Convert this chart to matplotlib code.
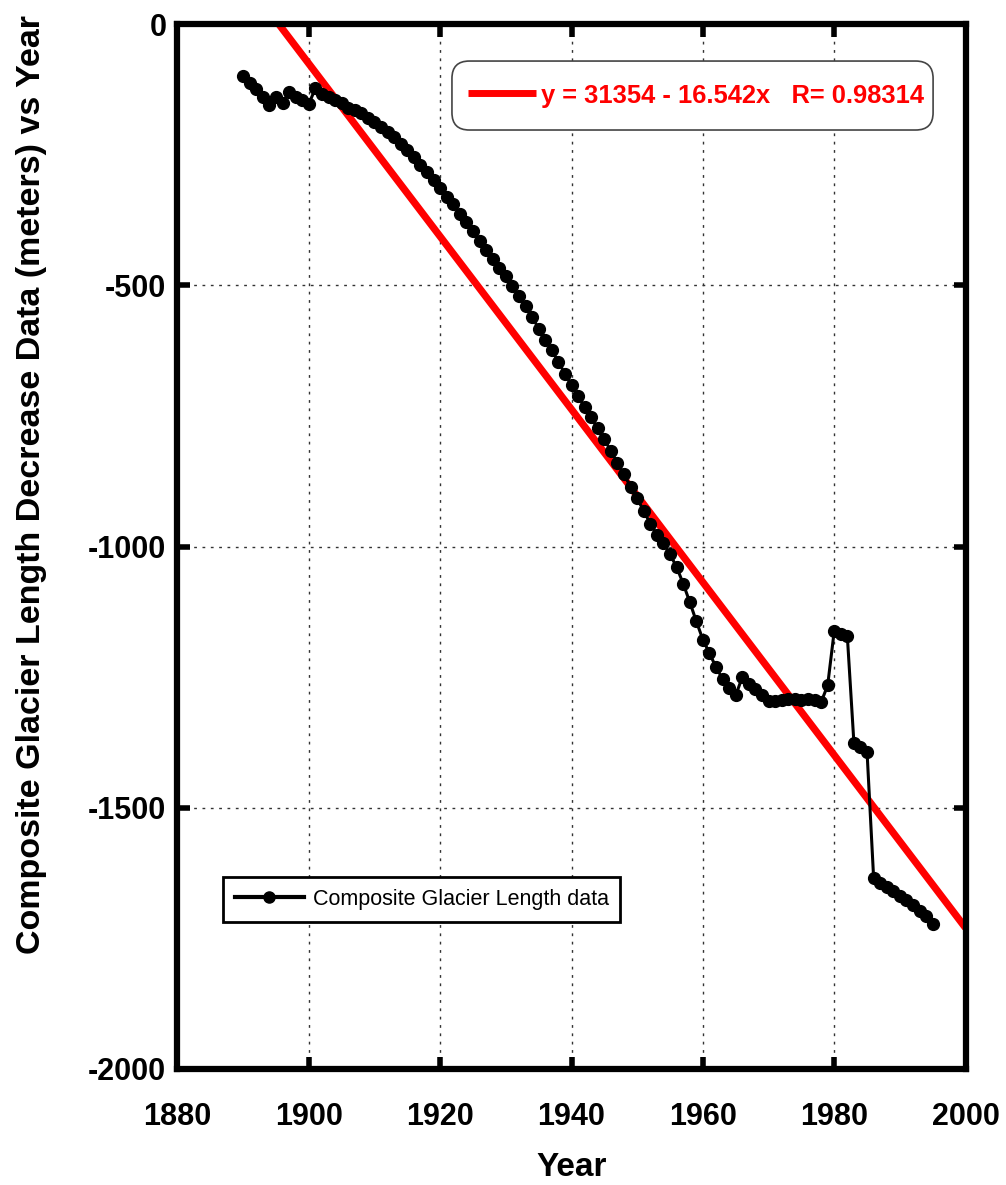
import numpy as np
import matplotlib
matplotlib.use('Agg')
import matplotlib.pyplot as plt
from matplotlib.lines import Line2D
from matplotlib.patches import FancyBboxPatch

plt.rcParams['font.family'] = ['Liberation Sans', 'DejaVu Sans']
plt.rcParams['axes.unicode_minus'] = False

# composite glacier length data (1890..1995)
years = list(range(1890, 1996))
length = [-100, -112, -125, -139, -154, -139, -151, -131, -139, -145,
          -153, -123, -133, -139, -145, -152, -160, -165, -171, -179,
          -187, -197, -206, -217, -229, -241, -254, -270, -283, -299,
          -313, -331, -345, -363, -379, -397, -415, -433, -449, -466,
          -483, -502, -521, -540, -560, -583, -604, -624, -647, -669,
          -691, -712, -733, -753, -774, -795, -817, -840, -862, -886,
          -908, -932, -956, -977, -994, -1015, -1039, -1071, -1106, -1143,
          -1178, -1204, -1231, -1253, -1270, -1285, -1250, -1263, -1272, -1285,
          -1296, -1296, -1293, -1291, -1291, -1294, -1291, -1294, -1298, -1266,
          -1162, -1167, -1172, -1376, -1384, -1393, -1634, -1644, -1652, -1660,
          -1668, -1677, -1687, -1697, -1708, -1722]

# linear fit as printed on the chart
intercept = 31354
slope = -16.542
r_value = 0.98314

W, H = 1006, 1185
fig = plt.figure(figsize=(W / 100, H / 100), dpi=100)
ax = fig.add_axes([0.1764, 0.0979, 0.7834, 0.8818])

xfit = np.array([1880, 2000])
ax.plot(xfit, intercept + slope * xfit, color='#ff0000', lw=5.2,
        solid_capstyle='butt', zorder=2)
ax.plot(years, length, color='black', lw=2.2, marker='o', ms=8.5, zorder=3)

ax.set_xlim(1880, 2000)
ax.set_ylim(-2000, 0)
ax.set_xticks([1880, 1900, 1920, 1940, 1960, 1980, 2000])
ax.set_yticks([-2000, -1500, -1000, -500, 0])
ax.grid(True, color='#333333', lw=1.0, ls=(0, (2, 4)))
for s in ax.spines.values():
    s.set_linewidth(4.5)
ax.tick_params(direction='in', length=9, width=4, top=True, right=True,
               labelsize=22)
ax.tick_params(axis='y', pad=8)
ax.tick_params(axis='x', pad=24)
for lab in ax.get_xticklabels() + ax.get_yticklabels():
    lab.set_fontweight('bold')

# axis titles placed like the reference
fig.text(572 / W, 1 - 1167 / H, 'Year', fontsize=24, fontweight='bold',
         ha='center', va='center')
fig.text(32 / W, 1 - 485 / H,
         'Composite Glacier Length Decrease Data (meters) vs Year',
         fontsize=24.5, fontweight='bold', rotation=90,
         ha='center', va='center')

# fit label box (rounded, drawn by hand)
box = FancyBboxPatch((0.3483, 0.8986), 0.6105, 0.066,
                     boxstyle='round,pad=0,rounding_size=0.022',
                     transform=ax.transAxes, facecolor='white',
                     edgecolor='#444444', lw=1.2, zorder=5,
                     mutation_aspect=788 / 1045)
ax.add_patch(box)
ax.add_line(Line2D([0.3687, 0.4550], [0.9343, 0.9343], transform=ax.transAxes,
                   color='#ff0000', lw=5, solid_capstyle='butt', zorder=6))
ax.text(0.4613, 0.9245,
        'y = %d - %.3fx   R= %.5f' % (intercept, -slope, r_value),
        transform=ax.transAxes, color='#ff0000', fontsize=18.4,
        fontweight='bold', ha='left', va='baseline', zorder=6)

h2 = Line2D([], [], color='black', lw=3, marker='o', ms=8)
leg2 = ax.legend([h2], ['Composite Glacier Length data'], loc='lower left',
                 bbox_to_anchor=(0.058, 0.141), fancybox=False, framealpha=1,
                 edgecolor='black', prop={'size': 15.5}, handlelength=3.2,
                 handletextpad=0.4, borderpad=0.55, borderaxespad=0)
leg2.get_frame().set_linewidth(2)

fig.savefig('out.png', dpi=100)
